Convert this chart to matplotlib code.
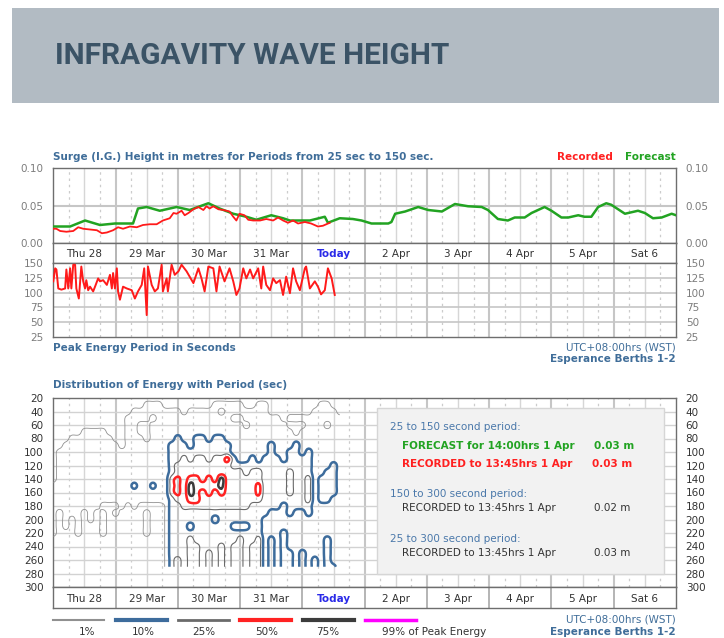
import numpy as np
import matplotlib
matplotlib.use("Agg")
import matplotlib.pyplot as plt
from matplotlib.patches import Rectangle
from matplotlib.lines import Line2D

plt.rcParams['font.family'] = ['DejaVu Sans']

W, H = 724, 638

day_labels = ["Thu 28", "29 Mar", "30 Mar", "31 Mar", "Today",
              "2 Apr", "3 Apr", "4 Apr", "5 Apr", "Sat 6"]

# surge height forecast (days since Thu 28 00:00, metres)
fc_days = [0.00, 0.27, 0.51, 0.75, 0.99, 1.28, 1.36, 1.50, 1.71, 1.98, 2.19, 2.49, 2.67,
           2.89, 3.10, 3.26, 3.50, 3.69, 3.80, 4.12, 4.36, 4.41, 4.60, 4.81, 4.95, 5.11,
           5.38, 5.43, 5.49, 5.65, 5.86, 6.02, 6.24, 6.45, 6.66, 6.88, 6.98, 7.14, 7.30,
           7.41, 7.57, 7.68, 7.89, 8.00, 8.16, 8.27, 8.43, 8.53, 8.64, 8.75, 8.88, 8.96,
           9.18, 9.39, 9.50, 9.63, 9.77, 9.93, 10.0]
fc_height = [0.022, 0.022, 0.030, 0.024, 0.026, 0.026, 0.046, 0.048, 0.043, 0.048, 0.044,
             0.053, 0.046, 0.039, 0.035, 0.031, 0.037, 0.033, 0.030, 0.030, 0.035, 0.027,
             0.033, 0.032, 0.030, 0.026, 0.026, 0.028, 0.039, 0.042, 0.048, 0.044, 0.042,
             0.052, 0.049, 0.048, 0.044, 0.032, 0.030, 0.034, 0.034, 0.040, 0.048, 0.043,
             0.034, 0.034, 0.037, 0.035, 0.035, 0.048, 0.053, 0.051, 0.039, 0.043, 0.040,
             0.033, 0.034, 0.039, 0.037]

# surge height recorded
rec_days = [0.00, 0.05, 0.11, 0.21, 0.32, 0.40, 0.48, 0.59, 0.70, 0.78, 0.86, 0.96, 1.04,
            1.12, 1.23, 1.34, 1.44, 1.55, 1.66, 1.76, 1.87, 1.93, 1.98, 2.06, 2.11, 2.17,
            2.25, 2.33, 2.41, 2.46, 2.51, 2.57, 2.65, 2.73, 2.83, 2.89, 2.94, 2.99, 3.07,
            3.13, 3.21, 3.32, 3.42, 3.53, 3.61, 3.69, 3.77, 3.85, 3.93, 4.04, 4.14, 4.25,
            4.33, 4.44]
rec_height = [0.019, 0.019, 0.016, 0.015, 0.016, 0.021, 0.019, 0.018, 0.017, 0.013, 0.014,
              0.017, 0.021, 0.019, 0.022, 0.021, 0.024, 0.025, 0.025, 0.030, 0.033, 0.040,
              0.039, 0.043, 0.037, 0.040, 0.045, 0.048, 0.044, 0.049, 0.046, 0.049, 0.045,
              0.044, 0.042, 0.035, 0.030, 0.039, 0.037, 0.031, 0.030, 0.030, 0.032, 0.030,
              0.034, 0.030, 0.027, 0.030, 0.026, 0.028, 0.026, 0.022, 0.023, 0.027]

# peak energy period (seconds)
per_days = [0.00, 0.03, 0.05, 0.08, 0.13, 0.19, 0.21, 0.24, 0.27, 0.29, 0.32, 0.35, 0.37,
            0.41, 0.45, 0.48, 0.51, 0.53, 0.56, 0.59, 0.64, 0.67, 0.72, 0.75, 0.80, 0.86,
            0.91, 0.94, 0.96, 0.99, 1.02, 1.04, 1.07, 1.12, 1.18, 1.26, 1.31, 1.36, 1.42,
            1.46, 1.50, 1.52, 1.58, 1.63, 1.68, 1.74, 1.76, 1.82, 1.84, 1.90, 1.95, 2.01,
            2.06, 2.14, 2.25, 2.33, 2.38, 2.43, 2.49, 2.57, 2.62, 2.67, 2.75, 2.83, 2.89,
            2.94, 2.99, 3.05, 3.10, 3.16, 3.21, 3.29, 3.34, 3.37, 3.42, 3.48, 3.53, 3.58,
            3.64, 3.69, 3.74, 3.80, 3.85, 3.90, 3.96, 4.04, 4.06, 4.12, 4.20, 4.25, 4.30,
            4.36, 4.41, 4.47, 4.52]
per_secs = [119, 141, 139, 107, 105, 107, 139, 107, 141, 107, 147, 147, 107, 90, 144, 119,
            107, 121, 104, 110, 102, 110, 124, 119, 121, 113, 130, 107, 133, 107, 141, 102,
            88, 110, 107, 104, 90, 102, 113, 141, 62, 144, 113, 102, 107, 147, 102, 124,
            102, 147, 130, 136, 147, 136, 116, 141, 124, 102, 144, 141, 102, 144, 119, 141,
            119, 96, 107, 141, 124, 139, 124, 141, 107, 144, 113, 104, 124, 116, 121, 96,
            127, 99, 141, 119, 104, 141, 144, 107, 119, 110, 97, 104, 141, 124, 96]

# energy distribution, read as the band each cell falls in
# rows = period 20..270 s (step 10), cols = day 0.0..4.6 (step 0.1)
# '.' <1%  'a' 1-10%  'b' 10-25%  'c' 25-50%  'd' 50-75%  'e' >75%
# capitals: cells only just over a band edge
energy_periods = list(range(20, 280, 10))
energy_days = [i / 10 for i in range(47)]
energy_rows = [
    "...............................................",                   # 20
    "...............aaa........aaaaa..aa........aa..",                   # 30
    ".............aaaaaaaa.aaaaa.aaaaaaa.......aaaa.",                   # 40
    "............aaaa.aaaaaaaaaaaa..aaaaaa.aaaaaaaaa",                   # 50
    "............aa..aaaaaaaaaaaaaaa.aaaaaa...aaa.aa",                   # 60
    ".....aaaa...aa..aaaaaaaaaaaaaaaaaaaaaaa.aaaaaaa",                   # 70
    "...aaaaaaa..aaa.aaa" + "abaabbabbaaaaaaaaaaaaaaaaaaa",              # 80
    "..aaaaaaaaa.aaaaaaa" + "bbbabbbbbbaaaaaabaaabaaaaaaa",              # 90
    ".aaaaaaaaaaaaaaaaaa" + "bbbbbbbbbbaaaaaabaabbabaaaaa",              # 100
    ".aaaaaaaaaaaaaaaaaa" + "bbcbccbccDbaababbbabbbbaaaaa",              # 110
    ".aaaaaaaaaaaaaaaaaa" + "bcccccccccbbbbbbbbbbbbbaaaba",              # 120
    ".aaaaaaaaaaaaaaaaaa" + "bcccccccccccbccbbbbcbbbaabba",              # 130
    ".aaaaaaaaaaaaaaaaaa" + "cDcddcdceccccccbbbbcbbcabbba",              # 140
    "aaaaaaaaaaaaaBaaBaa" + "cDceddddecccccDbbbbcbbcabbba",              # 150
    "aaaaaaaaaaaaaaaaaaa" + "cDcedcdcdcccccDbbbbcbbcabbba",              # 160
    "aaaaaaaaaaaaaaaaaaa" + "bccddccccccccccbbbbbbbcabbaa",              # 170
    "aaaaaaaa...a.a....A" + "bbcccccccccccbbbbbabbbbaaaaa",              # 180
    "a.aaa.a.a.a....a..A" + "bbbbbbbbbbbbbbbbaaabaabaaaaa",              # 190
    "a.a.a.a.a......a..Abbbbbbbabbbbbbbaaaaaaaaaaaaa",                   # 200
    "a.a.a...a......a..Abbbabbbbbbaaabbaaaaaaaaaaaaa",                   # 210
    "a...a...a......a..Abbbbbbbbbbbbbbbaaabaaaaaaaaa",                   # 220
    "..................Abbbcbbbbbbbcbbcababaaaaaabaa",                   # 230
    "..................Abbbccbbbcbccbccababaaaaaabaa",                   # 240
    "..................Abbbccbcbcbccbccababbabaaabaa",                   # 250
    "..................Abcbccbcbcbccbccababbabababaa",                   # 260
    "..................AbcbccbcbcbccbccababbabababBa",                   # 270
]
energy_band = {'.': 0, 'A': 0.6, 'a': 1, 'B': 1.8, 'b': 2, 'c': 3, 'D': 3.75, 'd': 4, 'e': 4.8}

contour_levels = [0.5, 1.5, 2.5, 3.5, 4.5]  # band edges: 1%, 10%, 25%, 50%, 75%
contour_colors = ['#909090', '#3d6c9c', '#6a6a6a', '#ff2222', '#3c3c3c', '#ff00ff']
contour_widths = [0.6, 1.8, 0.8, 1.8, 1.8]
legend_labels = ['1%', '10%', '25%', '50%', '75%', '99% of Peak Energy']
legend_label_x = [87, 143, 204, 267, 328, 382]
legend_widths = [1.5, 3, 2, 3, 3, 2.5]

for r in energy_rows:
    assert len(r) == 47, r
Z = np.array([[energy_band[ch] for ch in r] for r in energy_rows])


def catmull_rom(a, n, axis):
    # smooth resample through the grid values (keeps the cell values)
    a = np.moveaxis(np.asarray(a, float), axis, 0)
    p = np.concatenate([a[:1], a, a[-1:]])
    t = (np.arange(n) / n)[:, None]
    parts = []
    for i in range(a.shape[0] - 1):
        p0, p1, p2, p3 = p[i], p[i + 1], p[i + 2], p[i + 3]
        parts.append(0.5 * (2 * p1 + (p2 - p0) * t
                            + (2 * p0 - 5 * p1 + 4 * p2 - p3) * t ** 2
                            + (3 * p1 - p0 - 3 * p2 + p3) * t ** 3))
    parts.append(a[-1:])
    return np.moveaxis(np.concatenate(parts), 0, axis)


UP = 5
Zs = catmull_rom(catmull_rom(Z, UP, 1), UP, 0)
xs = np.linspace(energy_days[0], energy_days[-1], (len(energy_days) - 1) * UP + 1)
ys = np.linspace(energy_periods[0], energy_periods[-1], (len(energy_periods) - 1) * UP + 1)

BLUE = '#3f6d99'
SPINE = '#6e6e6e'


def fx(px):
    return px / W


def fy(py):
    return 1 - py / H


def rect(x0, y0, x1, y1):
    return [fx(x0), fy(y1), (x1 - x0) / W, (y1 - y0) / H]


def vgrid(ax):
    for d in np.arange(0.25, 10, 0.25):
        frac = d % 1
        if frac == 0:
            ax.axvline(d, color='#c6c6c6', lw=1.5, zorder=1)
        elif frac == 0.5:
            ax.axvline(d, color='#d6d6d6', lw=1.0, zorder=1)
        else:
            ax.axvline(d, color='#cccccc', lw=0.9, ls=(0, (2, 3)), zorder=1)


def frame(ax, label_color):
    ax.set_xlim(0, 10)
    ax.set_xticks([])
    for s in ax.spines.values():
        s.set_color(SPINE)
        s.set_linewidth(1)
    ax.tick_params(axis='y', length=0, labelsize=7.5, labelcolor=label_color,
                   labelleft=True, labelright=True, pad=7)


def date_row(ax):
    ax.set_xlim(0, 10)
    ax.set_ylim(0, 1)
    ax.set_xticks([])
    ax.set_yticks([])
    for s in ax.spines.values():
        s.set_color(SPINE)
        s.set_linewidth(1)
    for i in range(1, 10):
        ax.axvline(i, color='#a8a8a8', lw=1.2)
    for i, lab in enumerate(day_labels):
        if lab == "Today":
            ax.text(i + 0.5, 0.45, lab, ha='center', va='center', fontsize=7.5,
                    color='#2a2ae8', weight='bold')
        else:
            ax.text(i + 0.5, 0.45, lab, ha='center', va='center', fontsize=7.5,
                    color='#333333')


fig = plt.figure(figsize=(W / 100, H / 100), dpi=100)

# header band
fig.add_artist(Rectangle((fx(12), fy(103)), (719 - 12) / W, (103 - 8) / H,
                         transform=fig.transFigure, facecolor='#b2bbc3',
                         edgecolor='none', zorder=0))
fig.text(fx(55), fy(56), "INFRAGAVITY WAVE HEIGHT", family='Roboto', weight='bold',
         fontsize=21.5, color='#3b5366', ha='left', va='center')

# surge height panel
ax_top = fig.add_axes(rect(53.3, 168, 676, 243))
vgrid(ax_top)
ax_top.axhline(0.05, color='#c6c6c6', lw=1.5, zorder=1)
ax_top.plot(fc_days, fc_height, color='#22a322', lw=1.8, zorder=3)
ax_top.plot(rec_days, rec_height, color='#ff1a1a', lw=1.3, zorder=4)
ax_top.set_ylim(0, 0.10)
ax_top.set_yticks([0, 0.05, 0.10])
ax_top.set_yticklabels(['0.00', '0.05', '0.10'])
frame(ax_top, '#7c7c7c')

fig.text(fx(53), fy(157), "Surge (I.G.) Height in metres for Periods from 25 sec to 150 sec.",
         fontsize=7.5, weight='bold', color=BLUE, ha='left', va='center')
fig.text(fx(613), fy(157), "Recorded", fontsize=7.5, weight='bold', color='#ff2020',
         ha='right', va='center')
fig.text(fx(676), fy(157), "Forecast", fontsize=7.5, weight='bold', color='#22a322',
         ha='right', va='center')

ax_d1 = fig.add_axes(rect(53.3, 243, 676, 263))
date_row(ax_d1)

# peak period panel
ax_mid = fig.add_axes(rect(53.3, 263, 676, 337))
vgrid(ax_mid)
for v in [50, 75, 100, 125]:
    ax_mid.axhline(v, color='#c6c6c6', lw=1.2, zorder=1)
ax_mid.plot(per_days, per_secs, color='#ff1a1a', lw=1.4, zorder=3)
ax_mid.set_ylim(25, 150)
ax_mid.set_yticks([25, 50, 75, 100, 125, 150])
frame(ax_mid, '#7c7c7c')

fig.text(fx(53), fy(348), "Peak Energy Period in Seconds", fontsize=7.5, weight='bold',
         color=BLUE, ha='left', va='center')
fig.text(fx(676), fy(347), "UTC+08:00hrs (WST)", fontsize=7.5, color=BLUE,
         ha='right', va='center')
fig.text(fx(676), fy(359), "Esperance Berths 1-2", fontsize=7.5, weight='bold',
         color=BLUE, ha='right', va='center')

# energy distribution panel
fig.text(fx(53), fy(385), "Distribution of Energy with Period (sec)", fontsize=7.5,
         weight='bold', color=BLUE, ha='left', va='center')
ax_bot = fig.add_axes(rect(53.3, 398, 676, 587))
vgrid(ax_bot)
for v in range(40, 300, 20):
    ax_bot.axhline(v, color='#d2d2d2', lw=1.0, zorder=1)
ax_bot.contour(xs, ys, Zs, levels=contour_levels, colors=contour_colors[:5],
               linewidths=contour_widths, zorder=3)
ax_bot.set_ylim(300, 20)
ax_bot.set_yticks(list(range(20, 320, 20)))
frame(ax_bot, '#333333')

ax_d2 = fig.add_axes(rect(53.3, 587, 676, 608))
date_row(ax_d2)

# info box
fig.add_artist(Rectangle((fx(377), fy(574)), (664 - 377) / W, (574 - 408) / H,
                         transform=fig.transFigure, facecolor='#f2f2f2',
                         edgecolor='#d6d6d6', lw=1, zorder=1))
info_lines = [
    (390, 427, "25 to 150 second period:", '#4a78aa', 'normal', None),
    (402, 446, "FORECAST for 14:00hrs 1 Apr", '#22a322', 'bold', (594, "0.03 m")),
    (402, 464, "RECORDED to 13:45hrs 1 Apr", '#ff2020', 'bold', (592, "0.03 m")),
    (390, 494, "150 to 300 second period:", '#4a78aa', 'normal', None),
    (402, 508, "RECORDED to 13:45hrs 1 Apr", '#333333', 'normal', (594, "0.02 m")),
    (390, 539, "25 to 300 second period:", '#4a78aa', 'normal', None),
    (402, 553, "RECORDED to 13:45hrs 1 Apr", '#333333', 'normal', (594, "0.03 m")),
]
for x, y, txt, col, wt, val in info_lines:
    fig.text(fx(x), fy(y), txt, fontsize=7.5, color=col, weight=wt,
             ha='left', va='center', zorder=4)
    if val:
        fig.text(fx(val[0]), fy(y), val[1], fontsize=7.5, color=col, weight=wt,
                 ha='left', va='center', zorder=4)

# contour legend
for i in range(6):
    x0 = 53.3 + 62.3 * i
    fig.add_artist(Line2D([fx(x0), fx(x0 + 51)], [fy(620), fy(620)],
                          transform=fig.transFigure, color=contour_colors[i],
                          lw=legend_widths[i]))
    fig.text(fx(legend_label_x[i]), fy(632), legend_labels[i], fontsize=7.5,
             color='#333333', ha='left' if i == 5 else 'center', va='center')

fig.text(fx(676), fy(619), "UTC+08:00hrs (WST)", fontsize=7.5, color=BLUE,
         ha='right', va='center')
fig.text(fx(676), fy(632), "Esperance Berths 1-2", fontsize=7.5, weight='bold',
         color=BLUE, ha='right', va='center')

fig.savefig('out.png', dpi=100)
